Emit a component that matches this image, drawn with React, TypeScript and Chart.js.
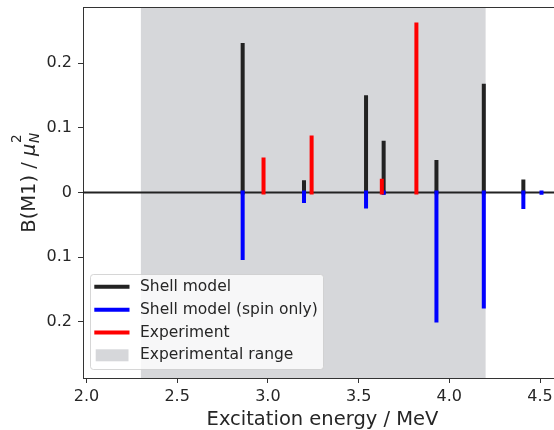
import React, { useEffect, useRef } from "react";
import { Chart, registerables } from "chart.js";
Chart.register(...registerables);

// ---- data ----
const shellE = [2.861, 3.199, 3.541, 3.638, 3.929, 4.19, 4.408];
const shellB = [0.228, 0.016, 0.147, 0.077, 0.047, 0.165, 0.017];
const spinE = [2.861, 3.199, 3.541, 3.638, 3.929, 4.19, 4.408, 4.508];
const spinB = [-0.101, -0.013, -0.0215, -0.0005, -0.1975, -0.176, -0.0224, -0.0005];
const expE = [2.976, 3.241, 3.628, 3.8185];
const expB = [0.051, 0.085, 0.018, 0.2595];
const rangeStart = 2.3;
const rangeEnd = 4.2;
const xTicks = [2.0, 2.5, 3.0, 3.5, 4.0, 4.5];
const yTicks = [-0.2, -0.1, 0, 0.1, 0.2];
const xMin = 1.981;
const xMax = 4.621;
const yMin = -0.2865;
const yMax = 0.2865;
const legendLabels = ["Shell model", "Shell model (spin only)", "Experiment", "Experimental range"];
const xTitle = "Excitation energy / MeV";

const BLACK = "#222222";
const BLUE = "#0000ff";
const RED = "#ff0000";
const GRAY = "rgb(214,215,218)";
const TEXT = "#262626";
const SPINE = "#333333";
const FONT = "'DejaVu Sans'";

function stems(E: number[], B: number[]) {
  const out: { x: number; y: number | null }[] = [];
  E.forEach((e, i) => {
    out.push({ x: e, y: 0 }, { x: e, y: B[i] }, { x: e, y: null });
  });
  return out;
}

const decorPlugin = {
  id: "decor",
  beforeDatasetsDraw(chart: any) {
    const { ctx, chartArea } = chart;
    const xs = chart.scales.x;
    const ys = chart.scales.y;
    ctx.save();
    const x0 = xs.getPixelForValue(rangeStart);
    const x1 = xs.getPixelForValue(rangeEnd);
    ctx.fillStyle = GRAY;
    ctx.fillRect(x0, chartArea.top, x1 - x0, chartArea.bottom - chartArea.top);
    const y0 = ys.getPixelForValue(0);
    ctx.strokeStyle = BLACK;
    ctx.lineWidth = 2;
    ctx.beginPath();
    ctx.moveTo(chartArea.left, y0);
    ctx.lineTo(chartArea.right, y0);
    ctx.stroke();
    ctx.restore();
  },
  afterDraw(chart: any) {
    const { ctx, chartArea } = chart;
    ctx.save();
    // top spine
    ctx.strokeStyle = SPINE;
    ctx.lineWidth = 1;
    ctx.beginPath();
    ctx.moveTo(chartArea.left, Math.round(chartArea.top) + 0.5);
    ctx.lineTo(chartArea.right, Math.round(chartArea.top) + 0.5);
    ctx.stroke();

    // legend
    const lx = 90.5, ly = 274.5, lw = 233, lh = 95, r = 3;
    ctx.beginPath();
    ctx.moveTo(lx + r, ly);
    ctx.lineTo(lx + lw - r, ly);
    ctx.arcTo(lx + lw, ly, lx + lw, ly + r, r);
    ctx.lineTo(lx + lw, ly + lh - r);
    ctx.arcTo(lx + lw, ly + lh, lx + lw - r, ly + lh, r);
    ctx.lineTo(lx + r, ly + lh);
    ctx.arcTo(lx, ly + lh, lx, ly + lh - r, r);
    ctx.lineTo(lx, ly + r);
    ctx.arcTo(lx, ly, lx + r, ly, r);
    ctx.closePath();
    ctx.fillStyle = "rgba(255,255,255,0.8)";
    ctx.fill();
    ctx.strokeStyle = "rgba(204,204,204,0.8)";
    ctx.stroke();

    const rows = [286.8, 309.8, 332.5, 355.3];
    const colors = [BLACK, BLUE, RED];
    ctx.lineCap = "butt";
    for (let i = 0; i < 3; i++) {
      ctx.strokeStyle = colors[i];
      ctx.lineWidth = 4;
      ctx.beginPath();
      ctx.moveTo(94.3, rows[i]);
      ctx.lineTo(129.5, rows[i]);
      ctx.stroke();
    }
    ctx.fillStyle = GRAY;
    ctx.fillRect(95.7, 349.3, 32.8, 12);
    ctx.fillStyle = TEXT;
    ctx.font = `15.5px ${FONT}`;
    ctx.textBaseline = "middle";
    ctx.textAlign = "left";
    legendLabels.forEach((t, i) => ctx.fillText(t, 140, rows[i]));

    // x title
    ctx.font = `19.5px ${FONT}`;
    ctx.textBaseline = "alphabetic";
    ctx.textAlign = "center";
    ctx.fillText(xTitle, (chartArea.left + chartArea.right) / 2, 425);

    // y title with math
    const big = 19.5, small = 13.65;
    const p1 = "B(M1) / ";
    ctx.textAlign = "left";
    ctx.font = `${big}px ${FONT}`;
    const w1 = ctx.measureText(p1).width;
    ctx.font = `italic ${big}px ${FONT}`;
    const wMu = ctx.measureText("μ").width;
    ctx.font = `italic ${small}px ${FONT}`;
    const wN = ctx.measureText("N").width;
    ctx.font = `${small}px ${FONT}`;
    const w2 = ctx.measureText("2").width;
    const total = w1 + wMu + Math.max(wN, w2);
    ctx.translate(34.5, 183);
    ctx.rotate(-Math.PI / 2);
    let cx = -total / 2;
    ctx.font = `${big}px ${FONT}`;
    ctx.fillText(p1, cx, 0);
    cx += w1;
    ctx.font = `italic ${big}px ${FONT}`;
    ctx.fillText("μ", cx, 0);
    cx += wMu;
    ctx.font = `italic ${small}px ${FONT}`;
    ctx.fillText("N", cx + 0.5, 4.5);
    ctx.font = `${small}px ${FONT}`;
    ctx.fillText("2", cx + 0.5, -13.8);
    ctx.restore();
  },
};

export default function App() {
  const ref = useRef<HTMLCanvasElement | null>(null);
  useEffect(() => {
    document.body.style.margin = "0";
    const canvas = ref.current!;
    const common = {
      showLine: true,
      pointRadius: 0,
      pointHoverRadius: 0,
      borderWidth: 4,
      borderCapStyle: "square" as const,
      spanGaps: false,
      tension: 0,
      fill: false,
    };
    const chart = new Chart(canvas, {
      type: "scatter",
      data: {
        datasets: [
          { ...common, label: legendLabels[2], data: stems(expE, expB), borderColor: RED, backgroundColor: RED, order: 1 },
          { ...common, label: legendLabels[1], data: stems(spinE, spinB), borderColor: BLUE, backgroundColor: BLUE, order: 2 },
          { ...common, label: legendLabels[0], data: stems(shellE, shellB), borderColor: BLACK, backgroundColor: BLACK, order: 3 },
        ] as any,
      },
      options: {
        responsive: false,
        animation: false,
        devicePixelRatio: 1,
        layout: { padding: { left: 0, top: 7, right: 0, bottom: 0 } },
        plugins: { legend: { display: false }, tooltip: { enabled: false }, title: { display: false } },
        events: [],
        scales: {
          x: {
            type: "linear",
            min: xMin,
            max: xMax,
            afterBuildTicks: (s: any) => {
              s.ticks = xTicks.map((v) => ({ value: v }));
            },
            afterFit: (s: any) => {
              s.height = 52;
              s.paddingLeft = 0;
              s.paddingRight = 0;
            },
            ticks: {
              autoSkip: false,
              maxRotation: 0,
              padding: 4,
              color: TEXT,
              font: { family: "DejaVu Sans", size: 16 },
              callback: (v: any) => Number(v).toFixed(1),
            },
            grid: { drawOnChartArea: false, drawTicks: true, tickLength: 5, tickColor: SPINE, tickWidth: 1 },
            border: { display: true, color: SPINE, width: 1 },
          },
          y: {
            type: "linear",
            min: yMin,
            max: yMax,
            afterBuildTicks: (s: any) => {
              s.ticks = yTicks.map((v) => ({ value: v }));
            },
            afterFit: (s: any) => {
              s.width = 83;
              s.paddingTop = 0;
              s.paddingBottom = 0;
            },
            ticks: {
              autoSkip: false,
              padding: 6,
              color: TEXT,
              font: { family: "DejaVu Sans", size: 16 },
              callback: (v: any) => (Math.abs(v) < 1e-9 ? "0" : Math.abs(Number(v)).toFixed(1)),
            },
            grid: { drawOnChartArea: false, drawTicks: true, tickLength: 5, tickColor: SPINE, tickWidth: 1 },
            border: { display: true, color: SPINE, width: 1 },
          },
        },
      },
      plugins: [decorPlugin],
    });
    return () => chart.destroy();
  }, []);
  return (
    <div style={{ width: 554, height: 430, overflow: "hidden", position: "relative" }}>
      <canvas ref={ref} width={562} height={430} style={{ display: "block", width: 562, height: 430 }} />
    </div>
  );
}
